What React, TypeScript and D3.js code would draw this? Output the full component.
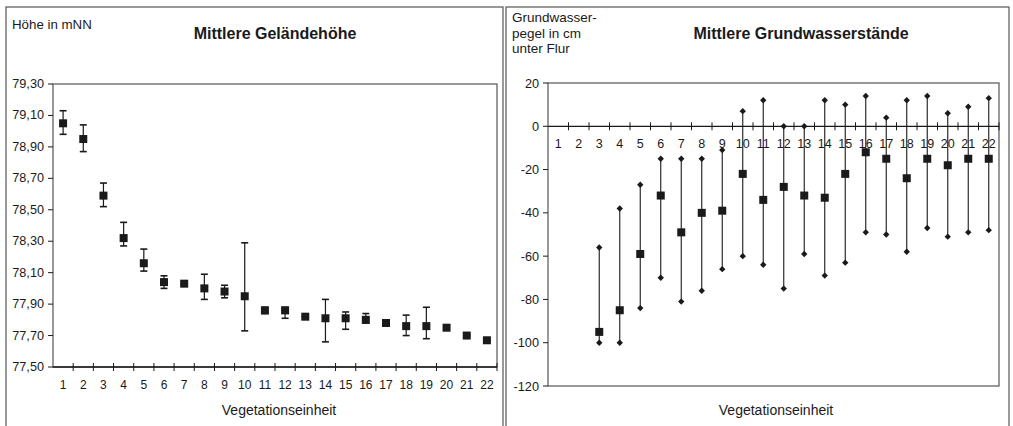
import * as d3 from "d3";

// Vegetationseinheit 1..22
const units = d3.range(1, 23).map(String);

// Mittlere Geländehöhe (mNN): mean, upper, lower
const heightMean = [79.05, 78.95, 78.59, 78.32, 78.16, 78.04, 78.03, 78.0, 77.98, 77.95, 77.86, 77.86, 77.82, 77.81, 77.81, 77.8, 77.78, 77.76, 77.76, 77.75, 77.7, 77.67];
const heightHigh = [79.13, 79.04, 78.67, 78.42, 78.25, 78.08, 78.03, 78.09, 78.02, 78.29, 77.88, 77.88, 77.82, 77.93, 77.85, 77.84, 77.78, 77.83, 77.88, 77.75, 77.7, 77.67];
const heightLow = [78.98, 78.87, 78.52, 78.27, 78.11, 78.0, 78.03, 77.93, 77.94, 77.73, 77.84, 77.81, 77.82, 77.66, 77.74, 77.78, 77.78, 77.7, 77.68, 77.75, 77.7, 77.67];
const heightTicks = [77.5, 77.7, 77.9, 78.1, 78.3, 78.5, 78.7, 78.9, 79.1, 79.3];

// Mittlere Grundwasserstände (cm unter Flur): units 3..22
const gwUnits = d3.range(3, 23).map(String);
const gwMean = [-95, -85, -59, -32, -49, -40, -39, -22, -34, -28, -32, -33, -22, -12, -15, -24, -15, -18, -15, -15];
const gwHigh = [-56, -38, -27, -15, -15, -15, -11, 7, 12, 0, 0, 12, 10, 14, 4, 12, 14, 6, 9, 13];
const gwLow = [-100, -100, -84, -70, -81, -76, -66, -60, -64, -75, -59, -69, -63, -49, -50, -58, -47, -51, -49, -48];
const gwTicks = [20, 0, -20, -40, -60, -80, -100, -120];

const ink = "#1a1a1a";
const frame = "#555";
const font = "'Liberation Sans', Arial, sans-serif";

function fmt(v: number) {
  return v.toFixed(2).replace(".", ",");
}

function LeftChart() {
  const x = d3.scaleBand().domain(units).range([53, 497]);
  const y = d3.scaleLinear().domain([77.5, 79.3]).range([367, 84]);
  const bw = x.bandwidth();
  return (
    <g>
      <rect x={6} y={7} width={497} height={430} fill="none" stroke={frame} strokeWidth={1.2} />
      <text x={12} y={29} fontSize={13.3} fill={ink}>Höhe in mNN</text>
      <text x={275} y={39} fontSize={16} fontWeight="bold" textAnchor="middle" fill={ink}>Mittlere Geländehöhe</text>
      <rect x={53} y={84} width={444} height={283} fill="none" stroke={frame} strokeWidth={1.2} />
      {heightTicks.map((t) => (
        <g key={t}>
          <line x1={48} x2={53} y1={y(t)} y2={y(t)} stroke={ink} />
          <text x={44} y={y(t) + 4} fontSize={12.7} textAnchor="end" fill={ink}>{fmt(t)}</text>
        </g>
      ))}
      <line x1={53} x2={497} y1={367} y2={367} stroke={ink} strokeWidth={1.3} />
      {units.map((u) => (
        <g key={u}>
          <line x1={(x(u) as number) + bw} x2={(x(u) as number) + bw} y1={363} y2={371} stroke={ink} />
          <text x={(x(u) as number) + bw / 2} y={389} fontSize={12} textAnchor="middle" fill={ink}>{u}</text>
        </g>
      ))}
      <text x={279} y={415} fontSize={14} textAnchor="middle" fill={ink}>Vegetationseinheit</text>
      {units.map((u, i) => {
        const cx = (x(u) as number) + bw / 2;
        return (
          <g key={u}>
            <line x1={cx} x2={cx} y1={y(heightHigh[i])} y2={y(heightLow[i])} stroke={ink} strokeWidth={1.2} />
            <line x1={cx - 3.5} x2={cx + 3.5} y1={y(heightHigh[i])} y2={y(heightHigh[i])} stroke={ink} strokeWidth={1.6} />
            <line x1={cx - 3.5} x2={cx + 3.5} y1={y(heightLow[i])} y2={y(heightLow[i])} stroke={ink} strokeWidth={1.6} />
            <rect x={cx - 4} y={y(heightMean[i]) - 4} width={8} height={8} fill={ink} />
          </g>
        );
      })}
    </g>
  );
}

function RightChart() {
  const x = d3.scaleBand().domain(units).range([548, 999]);
  const y = d3.scaleLinear().domain([-120, 20]).range([386, 83]);
  const bw = x.bandwidth();
  const diamond = d3.symbol().type(d3.symbolDiamond2).size(26)() as string;
  return (
    <g>
      <rect x={506} y={7} width={503} height={430} fill="none" stroke={frame} strokeWidth={1.2} />
      <text fontSize={13.5} fill={ink}>
        <tspan x={512} y={22}>Grundwasser-</tspan>
        <tspan x={512} y={38}>pegel in cm</tspan>
        <tspan x={512} y={53}>unter Flur</tspan>
      </text>
      <text x={801} y={39} fontSize={16} fontWeight="bold" textAnchor="middle" fill={ink}>Mittlere Grundwasserstände</text>
      <rect x={548} y={83} width={451} height={303} fill="none" stroke={frame} strokeWidth={1.2} />
      {gwTicks.map((t) => (
        <g key={t}>
          <line x1={543} x2={548} y1={y(t)} y2={y(t)} stroke={ink} />
          <text x={539} y={y(t) + 4.5} fontSize={12.7} textAnchor="end" fill={ink}>{t}</text>
        </g>
      ))}
      <line x1={548} x2={999} y1={y(0)} y2={y(0)} stroke={ink} strokeWidth={1.3} />
      {units.map((u) => (
        <g key={u}>
          <line x1={(x(u) as number) + bw} x2={(x(u) as number) + bw} y1={y(0) - 4} y2={y(0) + 4} stroke={ink} />
          <text x={(x(u) as number) + bw / 2} y={148} fontSize={12.5} textAnchor="middle" fill={ink}>{u}</text>
        </g>
      ))}
      <text x={776} y={415} fontSize={14} textAnchor="middle" fill={ink}>Vegetationseinheit</text>
      {gwUnits.map((u, i) => {
        const cx = (x(u) as number) + bw / 2;
        return (
          <g key={u}>
            <line x1={cx} x2={cx} y1={y(gwHigh[i])} y2={y(gwLow[i])} stroke={ink} strokeWidth={1.1} />
            <path d={diamond} transform={`translate(${cx},${y(gwHigh[i])})`} fill={ink} />
            <path d={diamond} transform={`translate(${cx},${y(gwLow[i])})`} fill={ink} />
            <rect x={cx - 4} y={y(gwMean[i]) - 4} width={8} height={8} fill={ink} />
          </g>
        );
      })}
    </g>
  );
}

export default function App() {
  return (
    <svg
      width={1013}
      height={426}
      style={{ position: "absolute", left: 0, top: 0, background: "#fff" }}
      fontFamily={font}
    >
      <LeftChart />
      <RightChart />
    </svg>
  );
}
